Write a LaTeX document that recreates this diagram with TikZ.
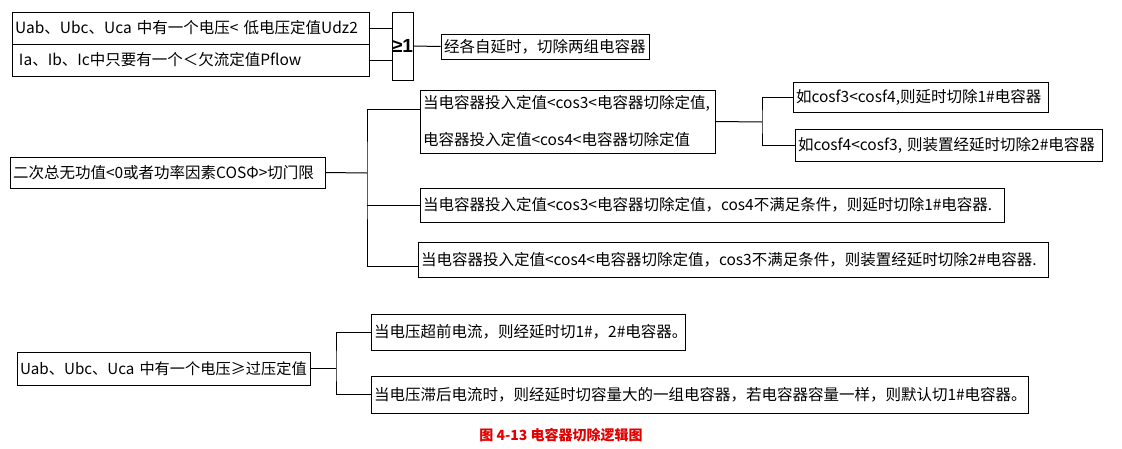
\documentclass[tikz,border=0pt]{standalone}
\usepackage{fontspec}
\setmainfont{Noto Sans CJK SC}
\newfontfamily\gatefont{Liberation Sans}
\usepackage{tikz}
\usetikzlibrary{positioning}
\definecolor{capred}{RGB}{226,0,0}

\begin{document}
\begin{tikzpicture}[x=1pt,y=-1pt,
  cond/.style={draw,line width=1pt,inner xsep=3pt,inner ysep=0pt,align=left,
    font=\fontsize{15.5}{18}\selectfont},
  wire/.style={line width=1pt}]
\useasboundingbox (0,0) rectangle (1122,448);
% voltage / current block
\node[cond,text width=351pt,minimum height=32pt] (low) at (190.5,28) {Uab、Ubc、Uca~中有一个电压<~低电压定值Udz2};
\node[cond,text width=351pt,minimum height=32pt] (under) at (190.5,60) {\hspace{4pt}Ia、Ib、Ic中只要有一个＜欠流定值Pflow};
\node[draw,line width=1pt,minimum width=21pt,minimum height=68pt,inner sep=0pt,
  font=\gatefont\fontsize{19}{19}\selectfont\bfseries] (gate) at (402.5,46) {≥1};
\node[cond,text width=202pt,minimum height=25pt] (both) at (545,46.5) {经各自延时，切除两组电容器};
\draw[wire] (low.east) -- (low.east -| gate.west);
\draw[wire] (under.east) -- (under.east -| gate.west);
\draw[wire] (gate.east) -- (both.west);
% reactive power block
\node[cond,text width=309pt,minimum height=31pt] (reactive) at (167.5,172.5) {二次总无功值<0或者功率因素COSΦ>切门限};
\node[cond,text width=289pt,minimum height=63pt,font=\fontsize{15.5}{37}\selectfont] (bothcos) at (567.5,121.5)
  {当电容器投入定值<cos3<电容器切除定值,\\电容器投入定值<cos4<电容器切除定值};
\node[cond,text width=249pt,minimum height=30pt] (first3) at (920.5,97) {如cosf3<cosf4,则延时切除1\#电容器};
\node[cond,text width=301pt,minimum height=32pt] (first4) at (948.5,145) {如cosf4<cosf3,~则装置经延时切除2\#电容器};
\node[cond,text width=578pt,minimum height=34pt] (cos3only) at (712,205) {当电容器投入定值<cos3<电容器切除定值，cos4不满足条件，则延时切除1\#电容器.};
\node[cond,text width=624pt,minimum height=35pt] (cos4only) at (733,259.5) {当电容器投入定值<cos4<电容器切除定值，cos3不满足条件，则装置经延时切除2\#电容器.};
\coordinate (qj) at (367,173);
\coordinate (cj) at (762,122);
\draw[wire] (reactive.east) -- (qj);
\draw[wire] ([yshift=12.5pt]bothcos.west) -| (qj) |- ([yshift=-7pt]cos4only.west);
\draw[wire] (cos3only.west) -- (cos3only.west -| qj);
\draw[wire] (bothcos.east) -- (cj);
\draw[wire] (first3.west) -| (cj) |- (first4.west);
% overvoltage block
\node[cond,text width=287pt,minimum height=33pt,font=\fontsize{15.2}{18}\selectfont] (overvolt) at (163.5,368.5) {Uab、Ubc、Uca~中有一个电压≥过压定值};
\node[cond,text width=308pt,minimum height=36pt] (lead) at (528,332) {当电压超前电流，则经延时切1\#，2\#电容器。};
\node[cond,text width=651pt,minimum height=37pt] (lag) at (699.5,394.5) {当电压滞后电流时，则经延时切容量大的一组电容器，若电容器容量一样，则默认切1\#电容器。};
\coordinate (vj) at (336,368.5);
\draw[wire] (overvolt.east) -- (vj);
\draw[wire] (lead.west) -| (vj) |- (lag.west);
\node[font=\fontsize{14}{14}\selectfont\bfseries,text=capred,inner sep=0pt] (caption) at (561,435.5) {图 4-13 电容器切除逻辑图};
\end{tikzpicture}
\end{document}
